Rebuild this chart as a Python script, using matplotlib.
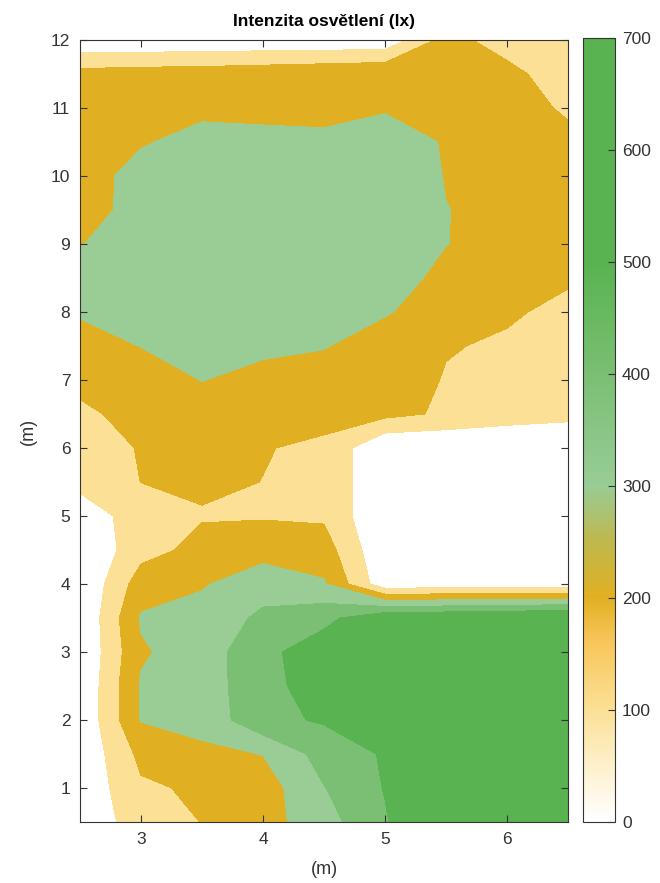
import numpy as np
import matplotlib
matplotlib.use('Agg')
import matplotlib.pyplot as plt
from matplotlib.colors import LinearSegmentedColormap, Normalize
from matplotlib.cm import ScalarMappable

plt.rcParams['font.family'] = ['Liberation Sans', 'DejaVu Sans']

# measurement grid (m)
x_pos = [2.5, 3.0, 3.5, 4.0, 4.5, 5.0, 5.5, 6.0, 6.5]
y_pos = [0.5, 1.0, 1.5, 2.0, 2.5, 3.0, 3.5, 4.0, 4.5, 5.0, 5.5, 6.0,
         6.5, 7.0, 7.5, 8.0, 8.5, 9.0, 9.5, 10.0, 10.5, 11.0, 11.5, 12.0]

# illuminance (lx), one row per y position
lux = [
    [25, 150, 202, 260, 360, 490, 650, 670, 680],   # 0.5
    [20, 185, 215, 250, 396, 505, 600, 640, 660],   # 1.0
    [15, 225, 280, 302, 440, 510, 590, 630, 650],   # 1.5
    [10, 305, 330, 476, 510, 560, 610, 630, 650],   # 2.0
    [5, 310, 340, 480, 530, 590, 620, 640, 650],    # 2.5
    [0, 288, 350, 470, 565, 600, 620, 640, 650],    # 3.0
    [0, 310, 340, 419, 468, 590, 600, 615, 630],    # 3.5
    [0, 250, 290, 360, 310, 33, 35, 38, 40],        # 4.0
    [0, 165, 228, 260, 248, 10, 10, 10, 10],        # 4.5
    [40, 150, 193, 192, 185, 0, 0, 0, 0],           # 5.0
    [130, 201, 215, 199, 185, 0, 0, 0, 0],          # 5.5
    [160, 205, 230, 204, 185, 0, 0, 0, 0],          # 6.0
    [185, 225, 260, 240, 224, 227, 186, 150, 130],  # 6.5
    [220, 250, 302, 270, 250, 260, 193, 175, 150],  # 7.0
    [260, 302, 340, 320, 306, 246, 206, 188, 165],  # 7.5
    [310, 350, 365, 360, 340, 309, 245, 211, 179],  # 8.0
    [330, 370, 375, 370, 360, 350, 270, 240, 210],  # 8.5
    [295, 360, 380, 385, 380, 370, 302, 265, 240],  # 9.0
    [270, 325, 370, 380, 380, 370, 302, 275, 250],  # 9.5
    [260, 330, 365, 370, 370, 375, 295, 275, 245],  # 10.0
    [255, 293, 325, 330, 325, 350, 292, 270, 234],  # 10.5
    [250, 260, 283, 270, 265, 290, 278, 260, 181],  # 11.0
    [235, 245, 250, 262, 275, 289, 255, 233, 136],  # 11.5
    [18, 18, 23, 24, 25, 26, 240, 150, 130],        # 12.0
]

levels = [0, 100, 200, 300, 400, 500, 700]
cb_ticks = [0, 100, 200, 300, 400, 500, 600, 700]

# colormap like the original (white -> yellow -> gold -> greens)
anchors = [(0, '#ffffff'), (100, '#fbe095'), (160, '#f8c65a'), (200, '#e1b022'),
           (250, '#bfb84c'), (300, '#99cc96'), (400, '#7abf73'), (500, '#59b350'),
           (700, '#59b350')]
cmap = LinearSegmentedColormap.from_list(
    'lux', [(v / 700, c) for v, c in anchors])
norm = Normalize(0, 700)
fill_colors = [cmap(norm(l)) for l in levels[:-1]]

X, Y = np.meshgrid(x_pos, y_pos)
Z = np.array(lux, dtype=float)

fig = plt.figure(figsize=(6.6, 8.83), dpi=100)
ax = fig.add_axes([80 / 660, 1 - 822 / 883, 488 / 660, 782 / 883])
ax.contourf(X, Y, Z, levels=levels, colors=fill_colors)

dark = '#333333'
ax.set_xlim(2.5, 6.5)
ax.set_ylim(0.5, 12)
ax.set_xticks([3, 4, 5, 6])
ax.set_yticks(range(1, 13))
ax.tick_params(direction='in', length=5, width=0.8, colors=dark,
               labelsize=12.5, top=True, right=True, pad=7)
for s in ax.spines.values():
    s.set_color(dark)
    s.set_linewidth(0.8)
ax.set_xlabel('(m)', fontsize=13, color=dark, labelpad=10)
ax.set_ylabel('(m)', fontsize=13, color=dark, labelpad=10)
ax.set_title('Intenzita osvětlení (lx)', fontsize=12.5, fontweight='bold',
             color='black', pad=10)

cax = fig.add_axes([583 / 660, 1 - 822 / 883, 32 / 660, 784 / 883])
sm = ScalarMappable(norm=norm, cmap=cmap)
cb = fig.colorbar(sm, cax=cax, ticks=cb_ticks)
cb.outline.set_edgecolor(dark)
cb.outline.set_linewidth(0.8)
cax.tick_params(direction='in', length=5, width=0.8, colors=dark,
                labelsize=12.5, pad=5)

fig.savefig('out.png', dpi=100)
